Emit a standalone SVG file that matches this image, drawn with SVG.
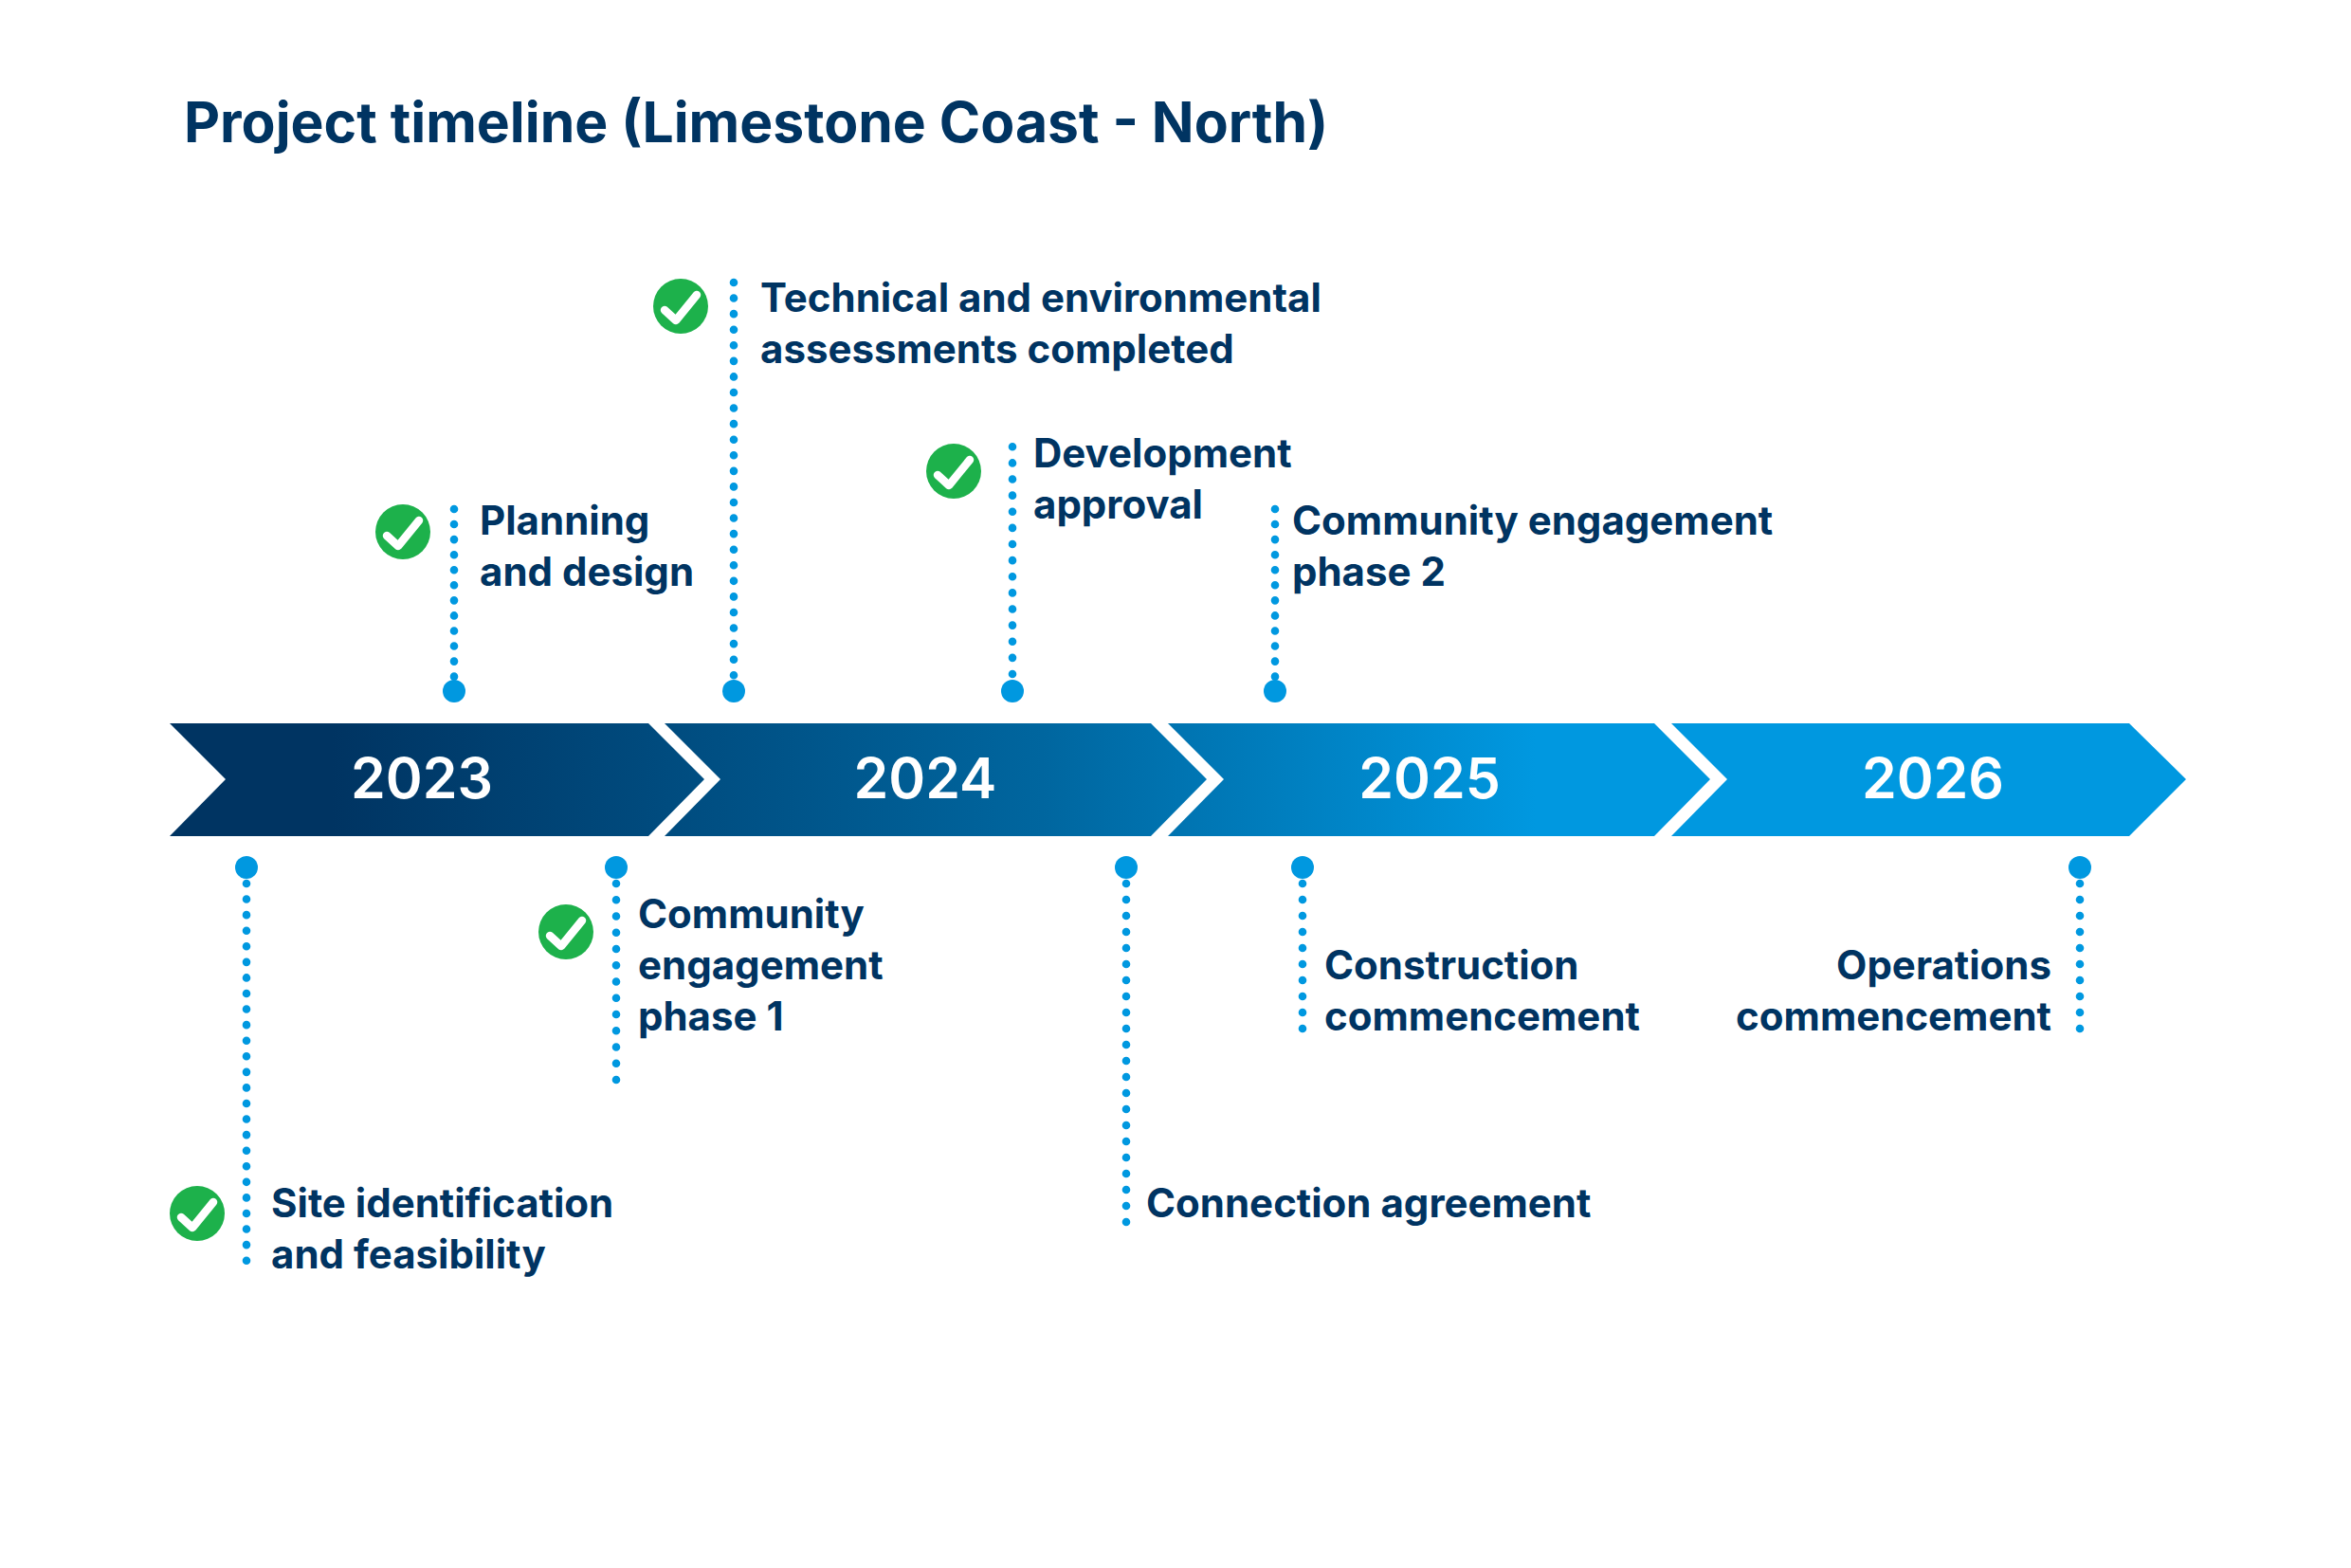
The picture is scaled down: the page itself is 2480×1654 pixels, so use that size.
<svg xmlns="http://www.w3.org/2000/svg" width="2480" height="1654" viewBox="0 0 2480 1654">
<style>
text{font-family:Inter,"Liberation Sans",sans-serif;fill:#003462}
.t{font-size:42px;font-weight:700}
.y{font-size:59px;font-weight:600;fill:#fff;text-anchor:middle}
.e{text-anchor:end}
.dl{stroke:#0098e0;stroke-width:8.6;stroke-linecap:round;fill:none}
.a{stroke-dasharray:0 16.06}
.b{stroke-dasharray:0 16.57}
.c{stroke-dasharray:0 17}
.f{stroke-dasharray:0 17.12}
.h{stroke-dasharray:0 17.25}
.d{fill:#0098e0}
.ck{fill:none;stroke:#fff;stroke-width:8.5;stroke-linecap:round;stroke-linejoin:round}
</style>
<defs>
<linearGradient id="g" gradientUnits="userSpaceOnUse" x1="350" y1="0" x2="1620" y2="0"><stop offset="0" stop-color="#003462"/><stop offset="0.59" stop-color="#00669f"/><stop offset="1" stop-color="#0098e0"/></linearGradient>
<g id="c"><circle r="29" fill="#1db14b"/><path class="ck" d="M-17 4L-5 15L17-12"/></g>
</defs>
<rect width="2480" height="1654" fill="#fff"/>
<text id="title" x="194" y="150" font-size="58.8" font-weight="700">Project timeline (Limestone Coast - North)</text>
<g id="timeline">
<g id="y2023"><path fill="url(#g)" d="M179 763H684L743 822L684 882H179L238 822Z"/><text class="y" x="445" y="842">2023</text></g>
<g id="y2024"><path fill="url(#g)" d="M701 763H1214L1273 822L1214 882H701L760 822Z"/><text class="y" x="976" y="842">2024</text></g>
<g id="y2025"><path fill="url(#g)" d="M1232 763H1745L1804 822L1745 882H1232L1291 822Z"/><text class="y" x="1508" y="842">2025</text></g>
<g id="y2026"><path fill="url(#g)" d="M1763 763H2246L2306 822L2246 882H1763L1822 822Z"/><text class="y" x="2039" y="842">2026</text></g>
</g>
<g id="connectors">
<path class="dl a" d="M479 537V714"/>
<path class="dl b" d="M774 298V715"/>
<path class="dl f" d="M1068 471.3V712"/>
<path class="dl a" d="M1345 537V714"/>
<path class="dl b" d="M260 932V1332"/>
<path class="dl h" d="M650 932V1140"/>
<path class="dl c" d="M1188 932V1290"/>
<path class="dl c" d="M1374 932V1086"/>
<path class="dl c" d="M2194 932V1086"/>
</g>
<g id="n1"><circle class="d" cx="260" cy="915" r="12"/><use href="#c" x="208" y="1280"/><text class="t" x="286" y="1284">Site identification</text><text class="t" x="286" y="1338">and feasibility</text></g>
<g id="n2"><circle class="d" cx="479" cy="729" r="12"/><use href="#c" x="425" y="561"/><text class="t" x="506" y="564">Planning</text><text class="t" x="506" y="618">and design</text></g>
<g id="n3"><circle class="d" cx="650" cy="915" r="12"/><use href="#c" x="597" y="983"/><text class="t" x="673" y="979">Community</text><text class="t" x="673" y="1033">engagement</text><text class="t" x="673" y="1087">phase 1</text></g>
<g id="n4"><circle class="d" cx="774" cy="729" r="12"/><use href="#c" x="718" y="323"/><text class="t" x="802" y="329">Technical and environmental</text><text class="t" x="802" y="383">assessments completed</text></g>
<g id="n5"><circle class="d" cx="1068" cy="729" r="12"/><use href="#c" x="1006" y="497"/><text class="t" x="1090" y="493">Development</text><text class="t" x="1090" y="547">approval</text></g>
<g id="n6"><circle class="d" cx="1188" cy="915" r="12"/><text class="t" x="1209" y="1284">Connection agreement</text></g>
<g id="n7"><circle class="d" cx="1345" cy="729" r="12"/><text class="t" x="1363" y="564">Community engagement</text><text class="t" x="1363" y="618">phase 2</text></g>
<g id="n8"><circle class="d" cx="1374" cy="915" r="12"/><text class="t" x="1397" y="1033">Construction</text><text class="t" x="1397" y="1087">commencement</text></g>
<g id="n9"><circle class="d" cx="2194" cy="915" r="12"/><text class="t e" x="2164" y="1033">Operations</text><text class="t e" x="2164" y="1087">commencement</text></g>
</svg>
